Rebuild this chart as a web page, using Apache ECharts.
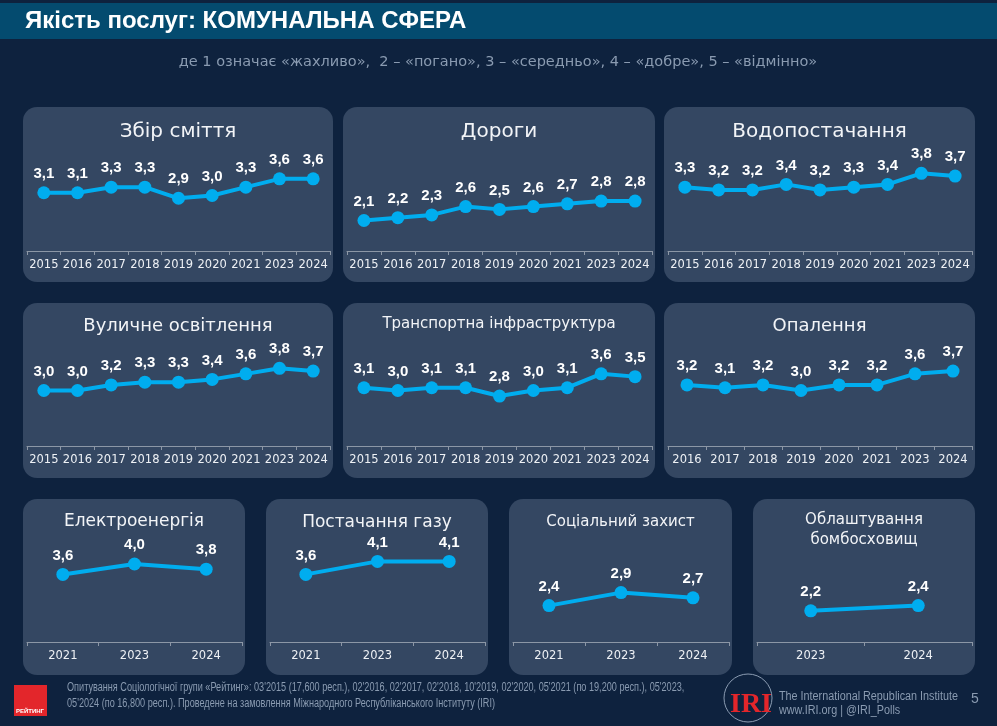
<!DOCTYPE html>
<html>
<head>
<meta charset="utf-8">
<title>Якість послуг: КОМУНАЛЬНА СФЕРА</title>
<script src="https://cdn.jsdelivr.net/npm/echarts@6/dist/echarts.min.js"></script>
<style>
  html, body { margin: 0; padding: 0; background: #0e223e; }
  #main { width: 997px; height: 726px; }
</style>
</head>
<body>
<div id="main"></div>
<script>
// роки опитувань
var yearsFull = ['2015', '2016', '2017', '2018', '2019', '2020', '2021', '2023', '2024'];
var yearsHeat = ['2016', '2017', '2018', '2019', '2020', '2021', '2023', '2024'];
var yearsShort = ['2021', '2023', '2024'];
var yearsShelter = ['2023', '2024'];

// середні оцінки (1-5)
var garbage = [3.1, 3.1, 3.3, 3.3, 2.9, 3.0, 3.3, 3.6, 3.6];
var roads = [2.1, 2.2, 2.3, 2.6, 2.5, 2.6, 2.7, 2.8, 2.8];
var water = [3.3, 3.2, 3.2, 3.4, 3.2, 3.3, 3.4, 3.8, 3.7];
var streetLight = [3.0, 3.0, 3.2, 3.3, 3.3, 3.4, 3.6, 3.8, 3.7];
var transport = [3.1, 3.0, 3.1, 3.1, 2.8, 3.0, 3.1, 3.6, 3.5];
var heating = [3.2, 3.1, 3.2, 3.0, 3.2, 3.2, 3.6, 3.7];
var electricity = [3.6, 4.0, 3.8];
var gas = [3.6, 4.1, 4.1];
var social = [2.4, 2.9, 2.7];
var shelters = [2.2, 2.4];

var titles = ['Збір сміття', 'Дороги', 'Водопостачання', 'Вуличне освітлення',
  'Транспортна інфраструктура', 'Опалення', 'Електроенергія', 'Постачання газу',
  'Соціальний захист', 'Облаштування\nбомбосховищ'];

function main() {
  var cats = [yearsFull, yearsFull, yearsFull, yearsFull, yearsFull, yearsHeat,
    yearsShort, yearsShort, yearsShort, yearsShelter];
  var vals = [garbage, roads, water, streetLight, transport, heating,
    electricity, gas, social, shelters];

  // розкладка панелей: x, y, ширина, висота, розмір заголовка, y заголовка
  var panels = [
    [23, 107, 310, 175, 20, 132], [343, 107, 312, 175, 20, 132], [664, 107, 311, 175, 20, 132],
    [23, 303, 310, 175, 18, 326], [343, 303, 312, 175, 15, 324], [664, 303, 311, 175, 18, 326],
    [23, 499, 222, 176, 17, 522], [266, 499, 222, 176, 17, 523],
    [509, 499, 223, 176, 15, 522], [753, 499, 222, 176, 15, 530]
  ];

  var lineColor = '#00adef';
  var grid = [], xAxis = [], yAxis = [], series = [], graphic = [];

  // шапка
  graphic.push({ type: 'rect', shape: { x: 0, y: 3, width: 997, height: 36 },
    style: { fill: '#044b6f' }, z: -10 });
  graphic.push({ type: 'text', x: 25, y: 21,
    style: { text: 'Якість послуг: КОМУНАЛЬНА СФЕРА', fill: '#ffffff',
      font: 'bold 24px "Liberation Sans", Arial, sans-serif', textVerticalAlign: 'middle' } });
  graphic.push({ type: 'text', x: 498, y: 62,
    style: { text: 'де 1 означає «жахливо»,  2 – «погано», 3 – «середньо», 4 – «добре», 5 – «відмінно»',
      fill: '#8a9bb1', font: '14.5px "DejaVu Sans", sans-serif',
      textAlign: 'center', textVerticalAlign: 'middle' } });

  for (var i = 0; i < panels.length; i++) {
    var p = panels[i];
    var bottomRow = i >= 6;
    var axisY = bottomRow ? 642 : (i < 3 ? 251 : 446);
    var h = bottomRow ? 104 : 111;

    graphic.push({ type: 'rect', shape: { x: p[0], y: p[1], width: p[2], height: p[3], r: 14 },
      style: { fill: '#344762' }, z: -5 });
    graphic.push({ type: 'text', x: p[0] + p[2] / 2, y: p[5],
      style: { text: titles[i], fill: '#f2f4f7', font: p[4] + 'px "DejaVu Sans", sans-serif',
        textAlign: 'center', textVerticalAlign: 'middle', lineHeight: 20 } });

    grid.push({ left: p[0] + 4, width: p[2] - 7, top: axisY - h, height: h });
    xAxis.push({
      type: 'category', gridIndex: i, data: cats[i], boundaryGap: true,
      axisLine: { lineStyle: { color: '#8c97a6', width: 1 } },
      axisTick: { show: true, interval: 0, length: 4, lineStyle: { color: '#8c97a6' } },
      axisLabel: { color: '#eef1f5', fontSize: 11.5, margin: 8, interval: 0,
        fontFamily: '"DejaVu Sans", sans-serif' }
    });
    yAxis.push({ type: 'value', gridIndex: i, min: 1, max: 5, show: false,
      splitLine: { show: false } });
    series.push({
      type: 'line', xAxisIndex: i, yAxisIndex: i, data: vals[i],
      symbol: 'circle', symbolSize: 13,
      lineStyle: { color: lineColor, width: 4 },
      itemStyle: { color: lineColor },
      label: {
        show: true, position: 'top', distance: 5,
        color: '#ffffff', fontSize: 15, fontWeight: 'bold',
        fontFamily: '"Liberation Sans", Arial, sans-serif',
        formatter: function (d) { return d.value.toFixed(1).replace('.', ','); }
      },
      animation: false
    });
  }

  // підвал
  graphic.push({ type: 'rect', shape: { x: 14, y: 685, width: 33, height: 31 },
    style: { fill: '#e3262b' } });
  graphic.push({ type: 'text', x: 30, y: 711,
    style: { text: 'РЕЙТИНГ', fill: '#ffffff', font: 'bold 6px "Liberation Sans", sans-serif',
      textAlign: 'center', textVerticalAlign: 'middle' } });
  graphic.push({ type: 'text', x: 67, y: 696, scaleX: 0.76,
    style: { text: 'Опитування Соціологічної групи «Рейтинг»: 03\'2015 (17,600 респ.), 02\'2016, 02\'2017, 02\'2018, 10\'2019, 02\'2020, 05\'2021 (по 19,200 респ.), 05\'2023,\n05\'2024 (по 16,800 респ.). Проведене на замовлення Міжнародного Республіканського Інституту (IRI)',
      fill: '#8a9bb1', font: '12px "Liberation Sans", sans-serif',
      lineHeight: 16, textVerticalAlign: 'middle' } });
  graphic.push({ type: 'circle', shape: { cx: 748, cy: 698, r: 24 },
    style: { fill: 'none', stroke: '#8a9bb1', lineWidth: 1 } });
  graphic.push({ type: 'text', x: 751, y: 705,
    style: { text: 'IRI', fill: '#e3262b', font: 'bold 28px "Liberation Serif", serif',
      textAlign: 'center', textVerticalAlign: 'middle' } });
  graphic.push({ type: 'text', x: 779, y: 704, scaleX: 0.9,
    style: { text: 'The International Republican Institute\nwww.IRI.org | @IRI_Polls',
      fill: '#8a9bb1', font: '12px "Liberation Sans", sans-serif',
      lineHeight: 14, textVerticalAlign: 'middle' } });
  graphic.push({ type: 'text', x: 975, y: 699,
    style: { text: '5', fill: '#8a9bb1', font: '14px "Liberation Sans", sans-serif',
      textAlign: 'center', textVerticalAlign: 'middle' } });

  var myChart = echarts.init(document.getElementById('main'));
  var option = {
    backgroundColor: '#0e223e',
    animation: false,
    grid: grid,
    xAxis: xAxis,
    yAxis: yAxis,
    series: series,
    graphic: graphic
  };
  myChart.setOption(option);
}
main();
</script>
</body>
</html>
